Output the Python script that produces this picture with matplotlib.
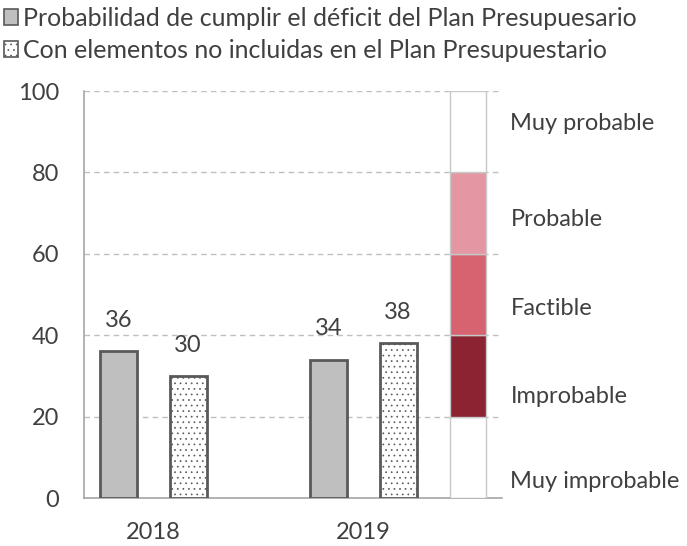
import numpy as np
import matplotlib
matplotlib.use("Agg")
import matplotlib.pyplot as plt
from matplotlib.patches import Patch

plt.rcParams['font.family'] = ['Lato', 'DejaVu Sans']
plt.rcParams['hatch.color'] = '#595959'
plt.rcParams['hatch.linewidth'] = 0.5

# datos
years = ['2018', '2019']
plan = [36, 34]
con_elementos = [30, 38]
serie_names = ['Probabilidad de cumplir el déficit del Plan Presupuesario',
               'Con elementos no incluidas en el Plan Presupuestario']

# escala de probabilidad
escala_bordes = [0, 20, 40, 60, 80, 100]
escala_colores = ['white', '#8B2332', '#D6636F', '#E497A3', 'white']
escala_labels = ['Muy improbable', 'Improbable', 'Factible', 'Probable', 'Muy probable']
escala_label_y = [4, 25, 46.5, 68.5, 92]

txt = '#404040'
fs = 17
fig = plt.figure(figsize=(6.87, 5.46), dpi=100)
ax = fig.add_axes([0.1223, 0.0879, 0.6084, 0.7454])

x = np.arange(len(years))
w = 0.176
off = 0.165
b1 = ax.bar(x - off, plan, w, color='#BFBFBF', edgecolor='#595959', linewidth=2, zorder=3)
b2 = ax.bar(x + off, con_elementos, w, color='white', edgecolor='#595959', linewidth=2,
            hatch='...', zorder=3)

for xi, v in zip(x - off, plan):
    ax.text(xi, v + 5, str(v), ha='center', va='bottom', fontsize=fs, color=txt)
for xi, v in zip(x + off, con_elementos):
    ax.text(xi, v + 5, str(v), ha='center', va='bottom', fontsize=fs, color=txt)

# barra de escala
xs = 1.498
for i in range(len(escala_colores)):
    ax.bar(xs, escala_bordes[i + 1] - escala_bordes[i], 0.171, bottom=escala_bordes[i],
           color=escala_colores[i], edgecolor='#C8C8C8', linewidth=1, zorder=3)
for lab, yy in zip(escala_labels, escala_label_y):
    ax.text(1.70, yy, lab, ha='left', va='center', fontsize=fs, color=txt, clip_on=False)

ax.set_xlim(-0.331, 1.66)
ax.set_ylim(0, 100)
ax.set_yticks(range(0, 101, 20))
ax.set_xticks(x)
ax.set_xticklabels(years)
ax.tick_params(axis='x', length=0, pad=17, labelsize=fs, labelcolor=txt)
ax.tick_params(axis='y', length=0, pad=18, labelsize=fs, labelcolor=txt)
ax.grid(axis='y', linestyle=(0, (4, 3)), color='#BFBFBF', linewidth=1, zorder=0)
for s in ['top', 'right']:
    ax.spines[s].set_visible(False)
ax.spines['left'].set_color('#A6A6A6')
ax.spines['bottom'].set_color('#A6A6A6')
ax.spines['left'].set_linewidth(1.2)
ax.spines['bottom'].set_linewidth(1.2)

handles = [Patch(facecolor='#BFBFBF', edgecolor='#595959', linewidth=1.2),
           Patch(facecolor='white', edgecolor='#595959', linewidth=1.2, hatch='...')]
fig.legend(handles, serie_names, loc='upper left', bbox_to_anchor=(0.006, 0.988),
           frameon=False, fontsize=18, handlelength=0.55, handleheight=0.6,
           handletextpad=0.2, labelspacing=0.36, labelcolor=txt, borderpad=0,
           borderaxespad=0)

fig.savefig('out.png', dpi=100)
